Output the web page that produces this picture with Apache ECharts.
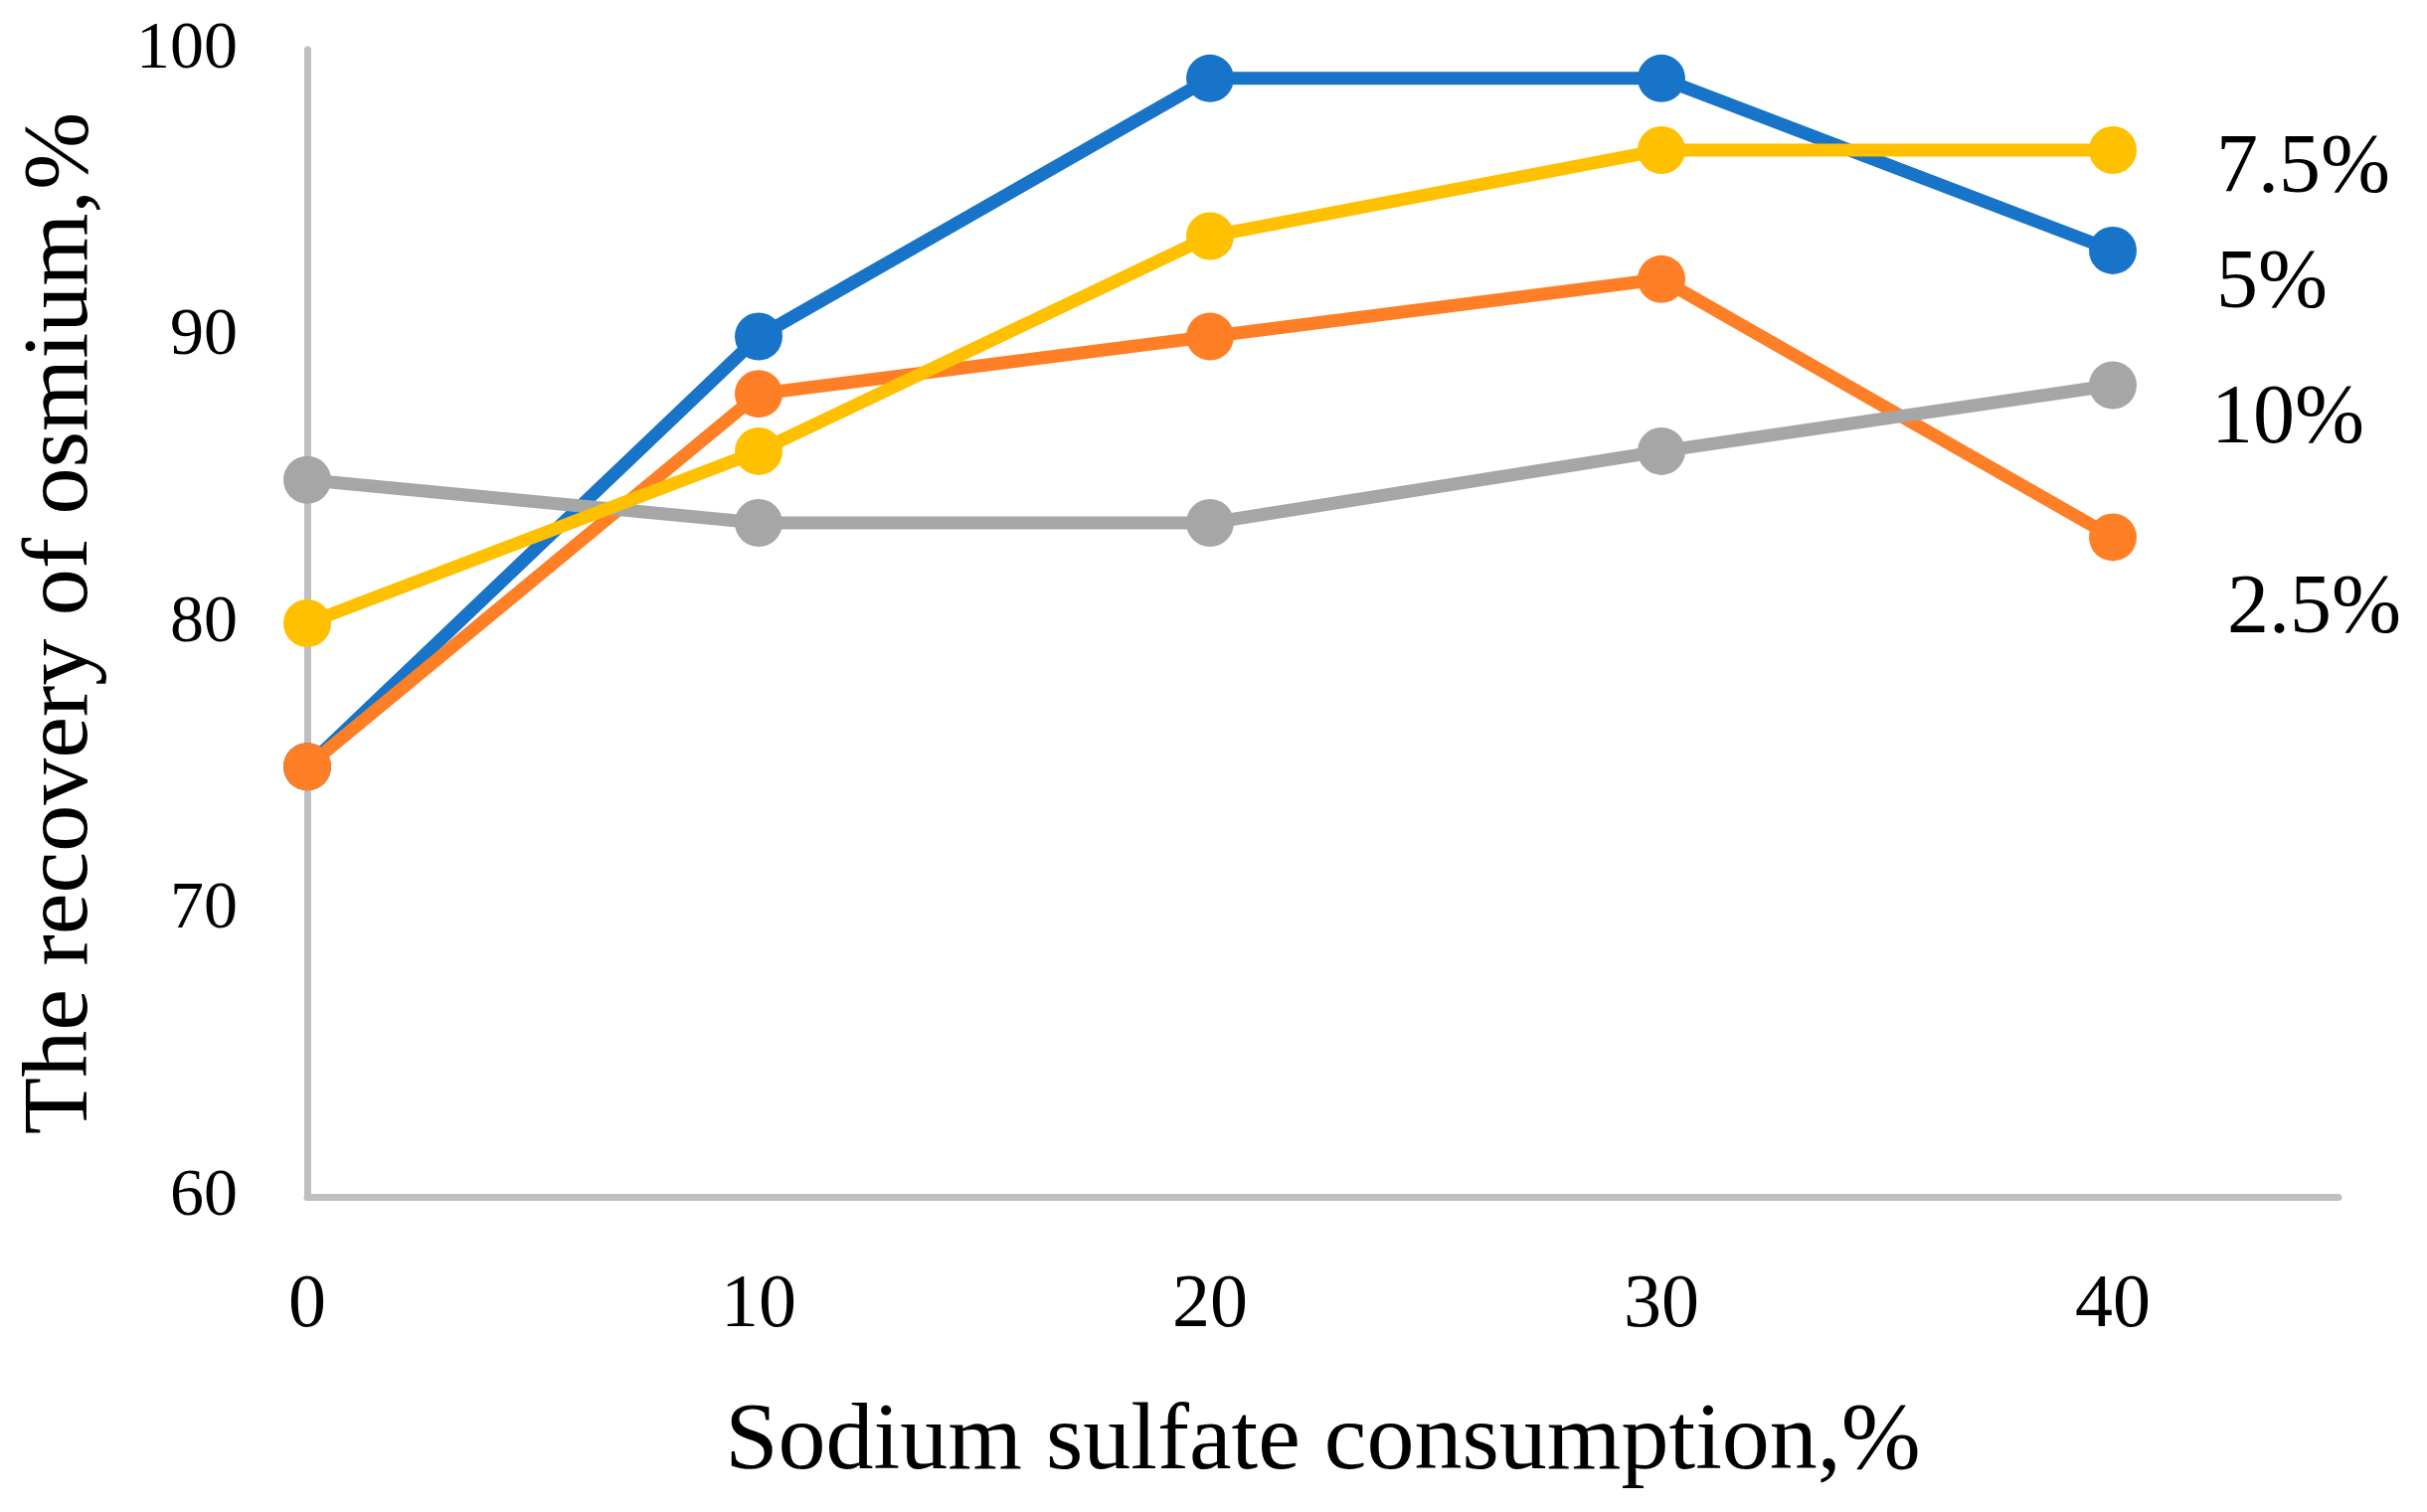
<!DOCTYPE html>
<html>
<head>
<meta charset="utf-8">
<script src="https://cdn.jsdelivr.net/npm/echarts@6/dist/echarts.min.js"></script>
<style>
html,body{margin:0;padding:0;background:#fff;}
#chart{width:2441px;height:1521px;}
</style>
</head>
<body>
<div id="chart"></div>
<script>
const xValues = [0, 10, 20, 30, 40];
const s5 = [75, 90, 99, 99, 93];
const s25 = [75, 88, 90, 92, 83];
const s10 = [85, 83.5, 83.5, 86, 88.3];
const s75 = [80, 86, 93.5, 96.5, 96.5];
const seriesNames = ['5%', '2.5%', '10%', '7.5%'];
const xTitle = 'Sodium sulfate consumption,%';
const yTitle = 'The recovery of osmium,%';

const font = '"Liberation Serif", "DejaVu Serif", serif';
function pairs(arr){ return xValues.map((x,i)=>[x, arr[i]]); }

const chart = echarts.init(document.getElementById('chart'));
function mk(name, data, color, off){
  return {
    name: name, type: 'line', data: pairs(data),
    symbol: 'circle', symbolSize: 48,
    lineStyle: {color: color, width: 13},
    itemStyle: {color: color},
    emphasis: {disabled: true},
    endLabel: {show: true, formatter: name, color: '#000', fontFamily: font, fontSize: 84,
      distance: 0, offset: off, align: 'left', verticalAlign: 'middle'}
  };
}
chart.setOption({
  animation: false,
  backgroundColor: '#fff',
  grid: {left: 309, right: 89, top: 50, bottom: 317, containLabel: false, outerBoundsMode: 'none'},
  xAxis: {
    type: 'value', min: 0, max: 45, interval: 10,
    name: xTitle, nameLocation: 'middle', nameGap: 200,
    nameTextStyle: {fontFamily: font, fontSize: 96, color: '#000'},
    axisLine: {show: true, lineStyle: {color: '#BFBFBF', width: 7}},
    axisTick: {show: false},
    splitLine: {show: false},
    axisLabel: {fontFamily: font, fontSize: 76, color: '#000', margin: 72, showMaxLabel: false,
      formatter: v => (v % 10 === 0 && v <= 40) ? String(v) : ''}
  },
  yAxis: {
    type: 'value', min: 60, max: 100, interval: 10,
    name: yTitle, nameLocation: 'middle', nameGap: 200, nameRotate: 90,
    nameTextStyle: {fontFamily: font, fontSize: 94, color: '#000'},
    axisLine: {show: true, lineStyle: {color: '#BFBFBF', width: 7}},
    axisTick: {show: false},
    splitLine: {show: false},
    axisLabel: {fontFamily: font, fontSize: 68, color: '#000', margin: 70}
  },
  series: [
    mk(seriesNames[0], s5, '#1874C9', [104, 35]),
    mk(seriesNames[1], s25, '#FF7F27', [115, 73]),
    mk(seriesNames[2], s10, '#A6A6A6', [99, 35]),
    mk(seriesNames[3], s75, '#FFC000', [104, 20])
  ]
});
</script>
</body>
</html>
